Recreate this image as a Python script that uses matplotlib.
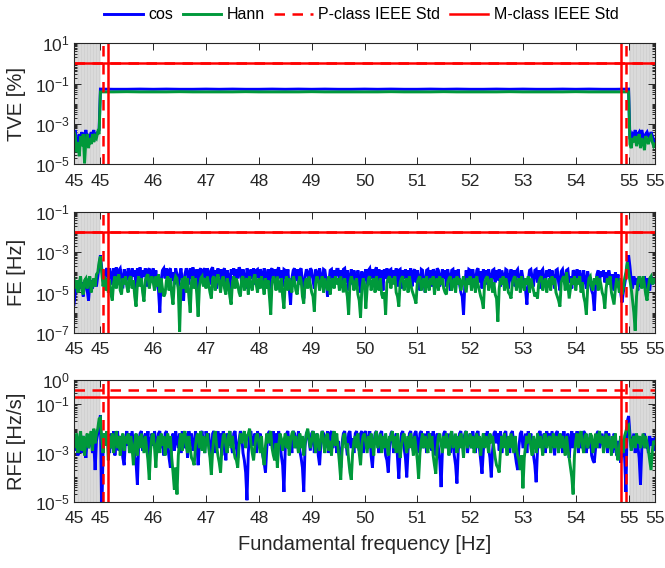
import numpy as np
import matplotlib
matplotlib.use("Agg")
import matplotlib.pyplot as plt
from matplotlib.lines import Line2D
from matplotlib.ticker import FixedLocator, LogLocator, NullFormatter

plt.rcParams['font.family'] = ['Liberation Sans', 'DejaVu Sans']
plt.rcParams['mathtext.fontset'] = 'custom'
plt.rcParams['mathtext.rm'] = 'Liberation Sans'
plt.rcParams['mathtext.it'] = 'Liberation Sans:italic'
plt.rcParams['mathtext.bf'] = 'Liberation Sans:bold'
plt.rcParams['mathtext.default'] = 'regular'

# ---------------------------------------------------------------------------
# Data (errors stored as base-10 exponents, sampled every 25 mHz from 44.5 Hz)
# ---------------------------------------------------------------------------
F0 = 44.5
DF = 0.025

# TVE [%]: left out-of-range band, in-range plateau (250 mHz steps), right band
tve_cos_left = [-3.6, -3.3, -3.9, -4.2, -3.5, -3.8, -3.4, -4.0, -3.6, -3.3,
                -3.7, -3.5, -3.9, -3.4, -3.6, -3.3, -3.8, -3.5, -3.4, -3.3]
tve_hann_left = [-3.4, -3.6, -4.4, -3.9, -4.6, -3.6, -4.1, -3.5, -4.95, -3.8,
                 -3.5, -4.2, -3.7, -4.0, -3.5, -3.9, -3.6, -3.7, -3.4, -3.5]
tve_cos_mid = [-1.27, -1.28, -1.28, -1.27, -1.28, -1.27, -1.28, -1.28, -1.27, -1.28,
               -1.27, -1.28, -1.28, -1.27, -1.28, -1.27, -1.28, -1.27, -1.28, -1.28,
               -1.27, -1.28, -1.27, -1.28, -1.28, -1.27, -1.28, -1.27, -1.28, -1.28,
               -1.27, -1.28, -1.27, -1.28, -1.28, -1.27, -1.28, -1.27, -1.28, -1.28,
               -1.27]
tve_hann_mid = [-1.41, -1.41, -1.40, -1.41, -1.41, -1.41, -1.40, -1.41, -1.41, -1.41,
                -1.41, -1.40, -1.41, -1.41, -1.41, -1.41, -1.40, -1.41, -1.41, -1.41,
                -1.41, -1.41, -1.40, -1.41, -1.41, -1.41, -1.40, -1.41, -1.41, -1.41,
                -1.41, -1.40, -1.41, -1.41, -1.41, -1.41, -1.40, -1.41, -1.41, -1.41,
                -1.41]
tve_cos_right = [-3.7, -3.9, -3.5, -3.6, -3.3, -3.8, -3.5, -3.4, -3.7, -3.3,
                 -3.6, -3.9, -3.5, -3.4, -3.6, -3.7, -3.4, -3.6, -3.8, -3.9]
tve_hann_right = [-4.0, -4.2, -3.7, -3.9, -3.6, -4.1, -3.8, -3.5, -4.2, -3.7,
                  -3.9, -4.3, -3.6, -3.8, -4.0, -3.7, -3.6, -3.9, -4.1, -4.0]

# FE [Hz]
fe_cos = [
    -5.6, -5.0, -4.5, -4.9, -4.4, -4.8, -4.5, -5.2, -4.6, -4.3, -4.9, -5.4, -4.6, -4.4, -4.8, -4.5, -4.3, -4.7, -4.2, -3.7,
    -3.15, -3.8, -4.3, -4.5, -3.9, -3.8, -4.4, -3.8, -4.1, -4.6, -3.8, -4.2, -3.75, -4.5, -3.9, -3.8, -4.3, -4.8, -3.85, -4.1,
    -4.4, -3.8, -4.0, -4.6, -3.8, -4.2, -3.9, -4.9, -3.8, -4.3, -3.75, -4.5, -3.9, -4.2, -3.8, -4.7, -3.9, -3.8, -4.4, -4.0,
    -3.8, -4.4, -3.9, -4.6, -4.9, -6.0, -4.4, -3.9, -3.8, -4.3, -3.8, -4.5, -3.9, -3.8, -4.4, -4.0, -4.6, -3.8, -4.1, -4.7,
    -4.2, -3.8, -4.4, -5.4, -4.1, -3.8, -4.0, -4.6, -3.8, -4.3, -3.75, -4.0, -4.7, -3.85, -5.0, -3.9, -3.8, -4.5, -3.9, -3.8,
    -4.4, -3.8, -4.0, -4.6, -3.85, -3.75, -4.3, -3.9, -4.8, -3.8, -4.2, -3.85, -4.5, -3.9, -3.8, -4.6, -3.9, -4.2, -4.9, -3.85,
    -4.1, -3.8, -4.5, -3.85, -4.3, -3.75, -3.9, -4.6, -3.85, -4.2, -4.8, -3.8, -4.0, -4.5, -3.85, -4.3, -3.8, -4.6, -3.9, -3.85,
    -4.3, -3.85, -4.0, -4.6, -3.8, -4.2, -4.5, -3.85, -4.9, -3.9, -3.8, -4.4, -3.85, -4.6, -3.9, -3.75, -4.3, -3.9, -4.7, -3.85,
    -3.9, -4.5, -3.85, -4.8, -5.6, -4.3, -3.9, -3.8, -4.4, -3.85, -4.6, -3.9, -3.8, -4.5, -5.3, -4.2, -3.85, -4.0, -4.6, -3.8,
    -3.9, -4.4, -4.8, -3.85, -4.0, -4.5, -3.8, -4.2, -4.7, -3.85, -3.9, -4.4, -5.2, -4.5, -3.9, -3.85, -4.6, -3.9, -4.3, -3.85,
    -3.85, -4.4, -3.9, -4.7, -3.85, -3.8, -4.5, -3.9, -4.9, -4.2, -3.85, -4.6, -3.9, -4.3, -4.8, -3.9, -4.4, -5.0, -3.95, -4.6,
    -4.2, -3.85, -4.6, -3.9, -3.8, -4.3, -3.85, -4.5, -3.9, -3.75, -4.4, -3.85, -4.7, -3.9, -4.9, -3.85, -4.3, -3.8, -4.5, -3.9,
    -3.85, -4.5, -3.9, -4.3, -3.8, -4.7, -3.9, -3.85, -4.8, -3.9, -4.3, -3.85, -4.6, -3.9, -4.2, -3.8, -4.7, -3.95, -3.85, -4.5,
    -3.9, -4.3, -4.9, -3.85, -3.9, -4.5, -5.0, -3.9, -3.85, -4.4, -3.9, -4.7, -3.85, -4.0, -4.5, -3.8, -3.9, -4.7, -4.2, -3.85,
    -4.3, -3.9, -4.7, -3.85, -4.2, -4.9, -3.9, -3.85, -4.5, -3.9, -4.3, -3.85, -4.6, -5.0, -5.2, -6.1, -4.6, -3.9, -4.4, -3.85,
    -3.9, -4.5, -3.85, -4.3, -4.7, -3.9, -3.8, -4.5, -3.95, -4.8, -3.85, -4.3, -3.9, -4.6, -3.85, -4.2, -4.7, -3.9, -3.85, -4.5,
    -3.9, -4.4, -3.85, -4.7, -3.9, -4.2, -4.5, -3.85, -3.9, -4.8, -4.2, -3.85, -4.5, -3.9, -4.7, -3.95, -3.85, -4.3, -4.6, -3.9,
    -4.3, -4.6, -4.9, -5.6, -4.4, -3.9, -3.85, -4.3, -4.7, -3.9, -3.85, -4.5, -3.9, -4.8, -3.95, -3.85, -4.3, -4.6, -3.9, -4.2,
    -3.85, -4.5, -3.9, -4.3, -4.8, -3.9, -3.85, -4.5, -4.9, -3.95, -3.85, -4.3, -4.6, -3.9, -3.85, -4.5, -4.2, -4.8, -3.9, -4.0,
    -4.3, -3.85, -4.5, -3.9, -4.2, -4.7, -3.9, -4.4, -4.8, -3.95, -4.3, -4.6, -4.9, -5.1, -5.9, -4.7, -4.1, -3.9, -4.5, -3.95,
    -4.2, -3.9, -4.5, -4.0, -4.6, -3.9, -4.2, -4.8, -4.1, -4.9, -4.0, -4.5, -4.1, -4.7, -5.0, -5.5, -5.0, -4.6, -4.2, -3.6,
    -3.15, -3.7, -4.4, -4.8, -4.2, -4.6, -4.3, -4.9, -4.2, -4.7, -4.3, -4.6, -4.2, -4.8, -4.3, -4.5, -4.9, -4.2, -4.6, -4.3,
    -4.5]
fe_hann = [
    -4.3, -4.8, -4.4, -5.0, -4.5, -4.2, -4.9, -5.1, -4.4, -4.3, -4.8, -4.4, -4.2, -5.0, -4.6, -4.3, -4.7, -4.1, -4.0, -3.5,
    -3.2, -4.0, -4.7, -4.2, -4.9, -4.3, -5.0, -4.4, -5.1, -5.4, -4.5, -4.2, -4.8, -4.3, -4.1, -4.9, -5.1, -4.3, -4.6, -4.2,
    -4.7, -5.0, -4.3, -4.2, -4.8, -4.4, -5.2, -5.7, -4.6, -4.2, -4.7, -4.3, -5.0, -5.45, -4.4, -4.2, -4.1, -4.8, -4.4, -4.2,
    -4.5, -4.9, -4.2, -4.7, -4.1, -5.0, -4.3, -4.8, -5.2, -5.05, -4.4, -4.2, -4.9, -4.3, -5.1, -5.6, -4.5, -4.2, -4.3, -4.9,
    -6.95, -4.7, -4.3, -4.8, -4.2, -5.0, -4.3, -5.2, -6.0, -4.5, -4.2, -4.8, -4.3, -5.1, -6.2, -4.7, -4.3, -4.2, -4.7, -4.3,
    -4.8, -4.2, -4.6, -5.0, -5.3, -4.3, -4.2, -4.9, -4.4, -4.1, -4.5, -5.0, -4.4, -4.2, -4.8, -5.1, -4.3, -4.6, -5.2, -5.6,
    -4.5, -4.2, -4.8, -4.3, -4.6, -5.0, -5.2, -4.3, -4.2, -4.9, -4.4, -4.3, -5.1, -4.2, -4.6, -4.9, -4.3, -4.1, -4.6, -5.0,
    -4.3, -4.8, -4.2, -4.6, -5.1, -4.3, -4.8, -4.4, -5.2, -6.1, -4.5, -4.2, -4.4, -4.9, -4.2, -4.6, -5.0, -4.3, -5.2, -5.8,
    -4.5, -4.2, -4.9, -4.3, -4.6, -5.0, -4.2, -4.4, -4.9, -5.1, -4.5, -4.2, -4.4, -5.2, -5.55, -4.5, -4.3, -4.8, -4.2, -4.6,
    -5.0, -5.2, -5.95, -4.5, -4.2, -4.4, -4.9, -4.5, -4.2, -5.0, -4.3, -4.6, -4.9, -4.2, -5.1, -4.5, -4.3, -4.8, -4.2, -4.6,
    -4.3, -4.9, -4.2, -4.6, -5.0, -4.3, -4.8, -5.2, -6.1, -4.5, -4.2, -4.4, -4.9, -4.5, -4.3, -5.1, -5.4, -6.25, -4.8, -4.3,
    -4.6, -5.8, -4.8, -4.3, -4.2, -4.9, -4.5, -4.3, -5.0, -4.2, -4.6, -4.9, -4.3, -5.1, -5.3, -5.0, -6.1, -4.5, -4.3, -4.2,
    -4.8, -4.3, -4.6, -4.2, -5.0, -5.2, -5.7, -4.5, -4.3, -4.2, -4.9, -4.5, -4.3, -5.0, -4.2, -4.6, -4.9, -5.1, -5.3, -5.55,
    -4.5, -4.3, -4.2, -4.9, -4.5, -4.3, -5.0, -4.2, -4.6, -4.9, -4.3, -4.6, -4.2, -5.1, -4.5, -4.3, -4.9, -4.2, -4.6, -4.3,
    -4.8, -5.0, -5.1, -4.5, -4.3, -4.2, -4.9, -4.5, -4.3, -5.0, -4.2, -4.6, -4.3, -4.9, -4.5, -4.2, -4.6, -5.0, -4.3, -4.6,
    -4.2, -4.9, -4.5, -4.3, -5.0, -4.2, -4.6, -4.9, -5.2, -5.4, -5.8, -4.5, -4.3, -4.2, -4.9, -4.5, -4.3, -5.0, -4.5, -5.1,
    -5.3, -6.45, -4.8, -4.3, -4.6, -4.2, -4.9, -4.3, -4.6, -5.0, -5.1, -5.3, -4.5, -4.3, -4.2, -4.9, -4.5, -4.3, -5.0, -4.2,
    -4.6, -4.9, -4.3, -4.6, -4.2, -5.0, -4.3, -4.6, -4.9, -5.2, -5.0, -5.3, -4.5, -4.3, -4.2, -4.9, -4.5, -4.3, -5.0, -4.5,
    -4.3, -4.9, -4.2, -4.6, -4.3, -5.0, -5.2, -5.4, -5.7, -4.5, -4.3, -4.2, -4.9, -4.0, -4.6, -5.3, -4.8, -4.3, -4.6, -4.2,
    -4.9, -4.3, -4.6, -4.2, -5.0, -4.5, -5.2, -5.5, -6.1, -4.8, -4.3, -4.2, -4.7, -4.9, -4.3, -4.6, -4.2, -4.9, -4.3, -4.6,
    -5.0, -5.2, -5.8, -4.8, -4.3, -4.6, -4.2, -5.0, -5.3, -5.6, -4.8, -4.3, -4.6, -5.0, -4.3, -5.1, -4.8, -4.3, -4.0, -3.5,
    -4.0, -4.4, -4.8, -5.4, -6.0, -6.9, -5.2, -4.5, -4.2, -4.4, -4.8, -4.2, -4.6, -5.1, -5.4, -4.7, -4.3, -4.2, -4.6, -4.3,
    -4.5]

# RFE [Hz/s]
rfe_cos = [
    -2.5, -2.9, -2.3, -3.1, -2.6, -2.4, -3.0, -2.3, -2.7, -3.2, -2.4, -2.8, -2.5, -2.3, -3.0, -2.6, -3.7, -2.5, -2.2, -1.8,
    -1.45, -5.6, -3.0, -2.2, -2.7, -2.1, -2.5, -3.0, -2.2, -2.8, -2.1, -3.1, -2.4, -2.1, -2.9, -2.3, -2.6, -3.2, -3.5, -2.4,
    -2.1, -2.7, -2.2, -3.0, -2.1, -2.6, -3.1, -3.4, -4.3, -2.6, -2.2, -2.1, -2.9, -2.4, -2.2, -2.8, -2.1, -3.2, -2.5, -2.2,
    -2.7, -2.1, -2.5, -3.0, -2.2, -2.1, -2.8, -2.4, -3.1, -2.2, -2.1, -2.7, -3.2, -3.6, -2.5, -2.2, -2.9, -2.1, -2.5, -2.8,
    -2.2, -3.0, -2.1, -2.6, -2.8, -2.2, -3.2, -2.1, -2.5, -2.2, -2.9, -2.7, -2.1, -2.6, -3.5, -2.6, -2.2, -2.1, -2.6, -3.0,
    -2.1, -2.6, -2.2, -2.8, -3.2, -2.2, -2.1, -3.0, -2.5, -2.1, -2.8, -2.2, -3.1, -2.1, -2.5, -3.3, -2.2, -2.7, -2.1, -2.6,
    -3.0, -2.2, -2.1, -2.8, -3.2, -2.5, -2.1, -2.3, -3.0, -3.3, -3.8, -4.94, -3.0, -2.2, -2.1, -2.7, -2.5, -2.2, -3.0, -2.1,
    -2.5, -2.2, -2.8, -3.1, -3.4, -3.8, -2.8, -2.2, -2.1, -2.7, -2.5, -2.1, -3.0, -2.2, -2.7, -2.1, -2.5, -3.1, -3.5, -4.6,
    -2.8, -2.2, -2.1, -2.7, -2.5, -3.0, -2.1, -2.2, -2.8, -2.5, -2.1, -2.9, -3.2, -3.6, -4.6, -2.7, -2.2, -2.1, -2.5, -2.9,
    -2.2, -2.1, -3.0, -2.5, -2.2, -3.1, -3.5, -2.6, -2.1, -2.2, -2.8, -2.5, -2.1, -3.0, -2.2, -2.1, -2.8, -2.4, -2.2, -3.0,
    -2.5, -3.0, -3.6, -2.6, -2.2, -2.1, -2.6, -3.1, -2.2, -2.1, -2.8, -2.4, -3.0, -2.2, -2.1, -2.6, -2.9, -2.2, -2.1, -3.0,
    -2.2, -2.1, -2.8, -2.5, -2.1, -3.1, -3.6, -2.7, -2.2, -2.1, -2.6, -3.0, -2.2, -2.1, -2.8, -2.5, -3.1, -3.3, -3.8, -2.7,
    -2.2, -2.1, -3.0, -2.5, -2.2, -3.2, -4.05, -2.9, -2.2, -2.1, -2.8, -3.2, -4.0, -2.9, -2.2, -2.1, -2.6, -2.9, -2.2, -2.1,
    -2.6, -3.0, -2.2, -2.1, -2.8, -2.5, -2.2, -3.0, -2.1, -2.6, -2.2, -2.9, -2.1, -2.5, -3.1, -2.2, -2.8, -3.3, -4.4, -2.9,
    -2.2, -2.1, -2.8, -2.5, -2.2, -3.0, -2.1, -2.6, -3.1, -3.5, -4.25, -2.9, -2.2, -2.1, -2.8, -2.5, -2.2, -2.1, -3.0, -2.5,
    -2.2, -2.8, -2.1, -2.5, -3.0, -2.2, -2.1, -2.8, -3.3, -3.85, -2.9, -2.2, -2.6, -2.1, -2.8, -3.2, -4.0, -2.9, -2.2, -2.1,
    -2.6, -2.2, -2.9, -2.1, -3.0, -2.5, -2.2, -2.1, -2.8, -2.5, -3.0, -2.2, -2.1, -2.6, -3.0, -3.4, -3.7, -2.7, -2.2, -2.1,
    -2.8, -2.5, -2.2, -3.0, -2.1, -2.6, -2.2, -2.8, -3.1, -3.5, -4.2, -2.9, -2.2, -2.1, -2.6, -2.9, -2.2, -3.0, -2.1, -2.5,
    -2.2, -2.8, -2.1, -2.6, -3.1, -2.2, -2.1, -2.8, -2.5, -2.2, -3.0, -2.1, -2.6, -2.9, -2.2, -3.2, -2.5, -2.1, -2.8, -2.2,
    -2.6, -2.1, -3.0, -2.2, -2.8, -2.5, -2.1, -2.2, -3.0, -2.5, -2.8, -2.2, -3.1, -3.3, -3.4, -2.8, -2.2, -2.1, -2.8, -2.5,
    -2.2, -2.8, -2.5, -2.1, -3.0, -2.2, -2.8, -2.5, -3.0, -2.2, -2.7, -3.1, -2.5, -2.9, -3.4, -3.0, -2.7, -3.2, -4.6, -1.7,
    -1.48, -2.2, -2.8, -2.5, -2.2, -3.0, -2.4, -2.7, -3.2, -4.3, -2.8, -2.4, -2.2, -2.8, -2.5, -3.0, -2.3, -2.7, -2.4, -2.9,
    -2.4]
rfe_hann = [
    -2.3, -2.8, -2.2, -3.0, -2.5, -2.1, -2.9, -2.3, -3.1, -2.5, -2.2, -2.8, -2.4, -2.1, -2.9, -2.0, -2.6, -2.2, -2.0, -1.6,
    -1.55, -2.4, -3.0, -2.2, -2.7, -2.1, -3.3, -2.3, -2.8, -2.2, -3.0, -2.5, -2.1, -2.8, -2.3, -3.1, -2.5, -2.2, -2.9, -2.3,
    -2.6, -2.2, -3.0, -2.3, -2.8, -3.5, -2.6, -2.2, -3.1, -2.3, -2.8, -2.2, -2.6, -3.0, -2.3, -2.8, -3.3, -4.1, -2.9, -2.3,
    -2.2, -2.8, -3.6, -2.6, -2.3, -3.0, -2.2, -2.7, -2.3, -3.1, -2.5, -2.2, -2.8, -2.3, -3.2, -3.8, -4.5, -3.6, -4.7, -3.1,
    -2.5, -2.2, -2.9, -2.3, -2.1, -2.7, -3.0, -2.3, -2.8, -3.2, -3.3, -3.5, -2.7, -2.3, -2.2, -2.8, -2.1, -2.9, -2.3, -3.0,
    -2.5, -2.2, -2.8, -3.2, -3.9, -2.9, -2.3, -2.1, -2.7, -3.1, -3.4, -3.8, -2.8, -2.3, -2.2, -2.7, -3.0, -2.3, -2.1, -2.8,
    -2.3, -2.9, -3.2, -3.3, -3.6, -2.7, -2.2, -2.6, -2.3, -2.1, -2.8, -2.3, -2.2, -2.0, -2.6, -3.0, -3.3, -2.7, -2.3, -2.2,
    -2.6, -3.0, -2.3, -3.1, -3.5, -2.7, -2.2, -2.6, -2.3, -2.1, -2.8, -3.1, -3.3, -2.6, -3.6, -2.7, -2.2, -2.4, -2.9, -2.5,
    -2.2, -2.8, -2.3, -3.1, -2.5, -2.2, -2.1, -2.8, -2.3, -2.6, -3.0, -2.2, -2.8, -2.3, -3.1, -2.6, -2.2, -2.0, -2.4, -2.8,
    -2.5, -2.1, -2.4, -3.0, -2.2, -2.6, -2.9, -2.3, -2.1, -2.6, -3.0, -2.3, -2.2, -2.9, -2.5, -3.1, -2.3, -2.1, -2.7, -2.2,
    -2.8, -3.4, -4.1, -2.9, -2.3, -2.2, -2.8, -2.6, -3.3, -3.8, -4.1, -3.0, -2.5, -2.3, -2.8, -2.2, -3.0, -3.5, -2.6, -2.3,
    -2.2, -2.6, -3.0, -2.3, -2.8, -2.2, -2.6, -3.1, -2.3, -2.1, -2.8, -2.5, -2.2, -3.0, -2.3, -2.8, -2.2, -2.6, -3.1, -2.3,
    -2.5, -2.1, -2.8, -2.3, -3.0, -2.2, -2.6, -3.2, -2.7, -2.3, -2.2, -2.6, -3.0, -2.3, -2.8, -2.2, -2.6, -3.1, -2.3, -2.8,
    -3.3, -4.05, -3.0, -2.5, -2.2, -2.8, -2.3, -2.6, -3.0, -2.2, -2.8, -2.3, -3.1, -3.5, -3.85, -2.8, -2.3, -2.2, -2.6, -3.0,
    -2.3, -2.8, -2.2, -2.6, -3.1, -2.3, -2.1, -2.8, -2.5, -2.2, -3.0, -2.3, -2.8, -2.2, -2.6, -3.2, -2.3, -2.1, -2.8, -2.5,
    -2.2, -2.8, -2.3, -3.0, -2.5, -2.2, -2.8, -2.3, -3.1, -2.5, -2.2, -2.8, -2.3, -2.6, -3.0, -2.2, -2.6, -2.3, -2.8, -3.2,
    -3.5, -3.6, -3.8, -2.9, -2.3, -2.8, -2.2, -2.6, -3.1, -2.3, -2.8, -2.2, -2.6, -3.0, -2.3, -2.8, -3.1, -3.3, -3.7, -3.1,
    -4.45, -3.2, -2.7, -2.3, -2.6, -2.2, -2.8, -3.1, -2.3, -2.6, -3.0, -2.2, -2.8, -2.3, -2.6, -3.1, -2.3, -2.2, -2.8, -2.5,
    -2.3, -3.0, -2.5, -2.2, -2.8, -2.3, -2.6, -3.0, -2.2, -2.8, -2.3, -2.6, -3.1, -2.3, -2.8, -3.2, -3.6, -4.0, -4.7, -3.1,
    -2.5, -2.2, -2.8, -2.3, -2.1, -2.7, -3.0, -2.3, -2.2, -2.8, -2.6, -2.2, -2.3, -3.0, -2.6, -2.2, -2.8, -2.3, -2.1, -2.6,
    -2.3, -3.0, -2.6, -2.2, -2.8, -2.3, -2.6, -3.1, -2.3, -2.8, -2.2, -3.0, -3.3, -2.8, -2.3, -2.6, -3.0, -2.3, -2.1, -1.9,
    -1.85, -2.4, -2.9, -2.5, -2.3, -2.8, -2.2, -2.6, -2.3, -2.8, -2.5, -2.2, -2.8, -2.3, -2.6, -2.9, -3.3, -3.7, -2.9, -2.5,
    -2.6]

# IEEE Std limits: P-class (dashed) and M-class (solid)
tve_limit_p, tve_limit_m = 1.0, 1.0
fe_limit_p, fe_limit_m = 0.01, 0.01
rfe_limit_p, rfe_limit_m = 0.4, 0.2
range_p = (45.05, 54.95)
range_m = (45.14, 54.86)
out_of_range = [(44.5, 45.0), (55.0, 55.5)]

x_ticks = [44.5, 45, 46, 47, 48, 49, 50, 51, 52, 53, 54, 55, 55.5]
x_tick_labels = ['45', '45', '46', '47', '48', '49', '50', '51', '52', '53', '54', '55', '55']
tve_yticks = [1e-5, 1e-3, 1e-1, 1e1]
fe_yticks = [1e-7, 1e-5, 1e-3, 1e-1]
rfe_yticks = [1e-5, 1e-3, 1e-1, 1e0]

# ---------------------------------------------------------------------------
freq = F0 + DF * np.arange(len(fe_cos))
assert len(fe_cos) == len(fe_hann) == len(rfe_cos) == len(rfe_hann) == 441

tve_freq = np.concatenate([F0 + DF * np.arange(len(tve_cos_left)),
                           45.0 + 0.25 * np.arange(len(tve_cos_mid)),
                           55.025 + DF * np.arange(len(tve_cos_right))])
tve_cos = 10 ** np.array(tve_cos_left + tve_cos_mid + tve_cos_right)
tve_hann = 10 ** np.array(tve_hann_left + tve_hann_mid + tve_hann_right)

C_COS = (0.0, 0.0, 1.0)
C_HANN = (0.0, 0.6, 0.23)
C_LIM = (1.0, 0.0, 0.0)
C_AX = (0.15, 0.15, 0.15)
LW_DATA = 2.1
LW_LIM = 1.8
DASH = (4.2, 3.0)

W, H = 665, 568
fig = plt.figure(figsize=(W / 100, H / 100), dpi=100)

panels = [
    dict(top=43.3, bottom=164.3, x=tve_freq, cos=tve_cos, hann=tve_hann,
         lim=(tve_limit_p, tve_limit_m), ylim=(1e-5, 1e1), yticks=tve_yticks, ylabel='TVE [%]'),
    dict(top=212.0, bottom=332.7, x=freq, cos=10 ** np.array(fe_cos), hann=10 ** np.array(fe_hann),
         lim=(fe_limit_p, fe_limit_m), ylim=(1e-7, 1e-1), yticks=fe_yticks, ylabel='FE [Hz]'),
    dict(top=380.0, bottom=501.7, x=freq, cos=10 ** np.array(rfe_cos), hann=10 ** np.array(rfe_hann),
         lim=(rfe_limit_p, rfe_limit_m), ylim=(1e-5, 1e0), yticks=rfe_yticks, ylabel='RFE [Hz/s]'),
]

axes = []
for p in panels:
    ax = fig.add_axes([74 / W, 1 - p['bottom'] / H, 581 / W, (p['bottom'] - p['top']) / H])
    axes.append(ax)
    ax.set_yscale('log')
    ax.set_xlim(44.5, 55.5)
    ax.set_ylim(*p['ylim'])

    # shaded bands outside the rated frequency range
    for lo, hi in out_of_range:
        ax.axvspan(lo, hi, color='0.82', lw=0, zorder=0.5)
        for xs in np.arange(lo + 0.01, hi, 0.028):
            ax.axvline(xs, color='0.87', lw=0.5, zorder=0.6)

    ax.plot(p['x'], p['cos'], color=C_COS, lw=LW_DATA, zorder=2, solid_joinstyle='miter')
    ax.plot(p['x'], p['hann'], color=C_HANN, lw=LW_DATA, zorder=2.1, solid_joinstyle='miter')

    lp, lm = p['lim']
    ax.axhline(lp, color=C_LIM, lw=LW_LIM, ls=(0, DASH), zorder=3)
    ax.axhline(lm, color=C_LIM, lw=LW_LIM, zorder=3)
    for xv in range_p:
        ax.axvline(xv, color=C_LIM, lw=LW_LIM, ls=(0, DASH), zorder=3)
    for xv in range_m:
        ax.axvline(xv, color=C_LIM, lw=LW_LIM, zorder=3)

    ax.xaxis.set_major_locator(FixedLocator(x_ticks))
    ax.set_xticklabels(x_tick_labels)
    ax.yaxis.set_major_locator(FixedLocator(p['yticks']))
    ax.set_yticklabels([r'$10^{%d}$' % int(round(np.log10(v))) for v in p['yticks']])
    ax.yaxis.set_minor_locator(LogLocator(base=10, subs=np.arange(1, 10), numticks=100))
    ax.yaxis.set_minor_formatter(NullFormatter())

    ax.tick_params(which='both', direction='in', top=True, right=True,
                   colors=C_AX, labelcolor=C_AX, width=0.7)
    ax.tick_params(which='major', length=5, labelsize=12.5)
    ax.tick_params(axis='x', which='major', pad=7)
    ax.tick_params(axis='y', which='major', pad=3)
    ax.tick_params(which='minor', length=2.5)
    for s in ax.spines.values():
        s.set_color(C_AX)
        s.set_linewidth(0.8)
        s.set_zorder(4)

    ax.set_ylabel(p['ylabel'], fontsize=14.5, color=C_AX)
    ax.yaxis.set_label_coords(-0.082, 0.5)

axes[-1].set_xlabel('Fundamental frequency [Hz]', fontsize=14.5, color=C_AX, labelpad=6)

handles = [Line2D([], [], color=C_COS, lw=LW_DATA),
           Line2D([], [], color=C_HANN, lw=LW_DATA),
           Line2D([], [], color=C_LIM, lw=LW_LIM, ls=(0, DASH)),
           Line2D([], [], color=C_LIM, lw=LW_LIM)]
labels = ['cos', 'Hann', 'P-class IEEE Std', 'M-class IEEE Std']
fig.legend(handles, labels, loc='center', bbox_to_anchor=(0.5436, 0.9736), ncol=4,
           frameon=False, fontsize=11.5, handlelength=2.4, handletextpad=0.35,
           columnspacing=0.6, borderaxespad=0, borderpad=0)

fig.savefig('out.png', dpi=100)
